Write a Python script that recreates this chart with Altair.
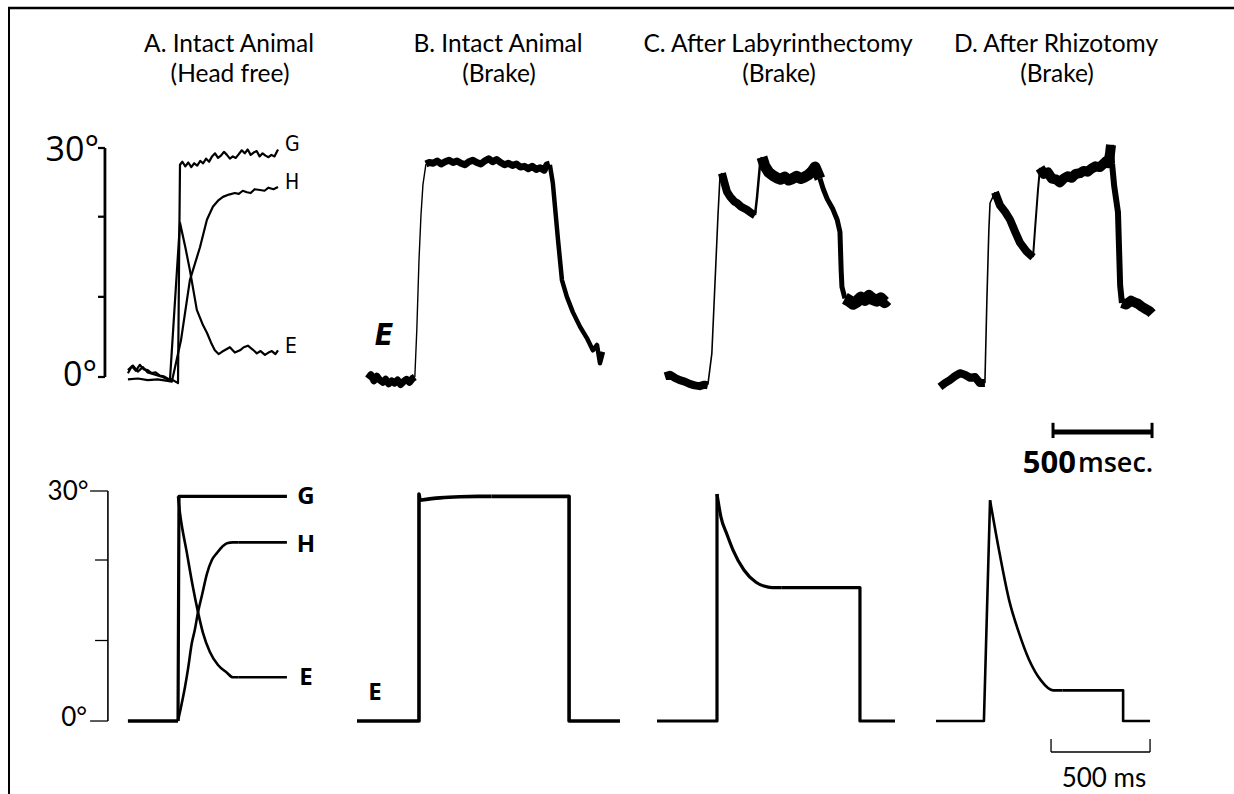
import altair as alt
import pandas as pd

# ---------------------------------------------------------------
# Top row: recorded eye (E), head (H) and gaze (G) traces.
# Each point is (ms from start of sweep, angle in degrees).
# ---------------------------------------------------------------
A_G = [(0, 0.5), (20, 1.4), (40, 0.8), (60, 1.6), (80, 1.0), (100, 0.9), (120, 0.5), (140, 0.6),
       (160, 0.2), (180, 0.1), (200, -0.2), (220, -0.3), (240, -0.6), (253, -0.8), (258, 14.0),
       (263, 27.8), (275, 28.2), (290, 27.6), (305, 28.1), (320, 27.5), (335, 28.0), (350, 27.7),
       (365, 28.3), (380, 28.0), (395, 28.6), (410, 28.2), (425, 28.9), (440, 29.3), (455, 28.7),
       (470, 29.0), (485, 29.5), (500, 29.1), (515, 28.6), (530, 28.9), (545, 28.7), (560, 29.2),
       (575, 29.7), (590, 29.3), (605, 29.8), (620, 29.1), (635, 29.4), (650, 29.6), (665, 28.9),
       (680, 29.3), (695, 29.0), (710, 28.8), (725, 29.1), (740, 28.9), (758, 29.8)]
A_H = [(0, -0.3), (50, -0.2), (100, -0.4), (150, -0.3), (200, -0.5), (222, -0.6), (268, 4.8),
       (313, 12.7), (364, 17.0), (399, 20.6), (429, 22.3), (455, 23.1), (480, 23.6), (510, 23.9),
       (540, 24.1), (560, 24.0), (580, 24.4), (601, 24.2), (620, 24.1), (640, 24.6), (667, 24.5),
       (690, 24.4), (710, 24.8), (735, 24.6), (758, 24.9)]
A_E = [(0, 0.9), (25, 1.5), (50, 0.7), (75, 1.3), (100, 0.6), (125, 0.4), (150, 0.2), (175, 0.0),
       (200, -0.3), (212, -0.5), (263, 20.2), (290, 17.0), (313, 14.0), (348, 8.8), (379, 6.8),
       (399, 5.8), (420, 4.5), (439, 3.5), (458, 3.0), (475, 3.3), (495, 3.6), (515, 3.9),
       (540, 3.2), (566, 3.5), (585, 3.9), (606, 4.1), (630, 3.6), (651, 3.1), (670, 3.4),
       (692, 2.9), (710, 3.2), (727, 3.4), (745, 3.0), (758, 3.5)]

B_BASE = [(0, -0.2), (15, 0.3), (30, -0.5), (45, 0.1), (60, -0.4), (75, -0.7), (90, -0.3),
          (105, -0.9), (120, -0.5), (135, -0.8), (150, -0.4), (165, -1.0), (180, -0.6),
          (195, -0.3), (210, -0.7), (225, -0.2), (237, 0.0)]
B_RISE = [(237, 0.0), (247, 6.2), (258, 15.3), (268, 21.2), (278, 25.2), (293, 27.9)]
B_PLAT = [(293, 27.9), (310, 28.1), (330, 28.0), (350, 28.3), (370, 27.9), (390, 28.2),
          (410, 28.4), (430, 28.1), (450, 28.3), (470, 28.0), (490, 27.8), (510, 28.2),
          (530, 28.4), (550, 28.1), (570, 27.9), (590, 28.3), (610, 28.6), (630, 28.2),
          (650, 28.5), (670, 28.1), (690, 27.8), (710, 28.0), (730, 27.7), (750, 27.9),
          (770, 27.5), (790, 27.6), (810, 27.3), (830, 27.6), (850, 27.2), (870, 27.4),
          (890, 27.1), (905, 27.8), (919, 27.9)]
B_FALL = [(919, 27.8), (934, 25.4), (960, 18.0), (980, 12.7), (1005, 10.5), (1035, 8.5),
          (1071, 6.6), (1106, 5.1), (1136, 3.5), (1157, 4.2), (1172, 1.8), (1187, 3.3)]

C_BASE = [(0, 0.1), (25, 0.3), (50, -0.1), (75, -0.4), (100, -0.6), (125, -0.9), (150, -1.1),
          (175, -1.2), (200, -1.0), (217, -1.1)]
C_RISE1 = [(217, -1.0), (237, 3.1), (258, 15.3), (268, 21.2), (278, 26.2), (288, 26.7)]
C_DECAY = [(288, 26.7), (300, 25.5), (313, 24.3), (330, 23.6), (350, 23.0), (364, 22.8),
           (385, 22.3), (414, 21.9), (435, 21.5), (455, 21.2)]
C_RISE2 = [(455, 21.2), (465, 23.5), (480, 27.8), (490, 28.8)]
C_PLAT = [(490, 28.8), (505, 27.6), (525, 26.8), (545, 26.4), (565, 26.1), (585, 25.9),
          (605, 26.2), (625, 25.8), (645, 26.0), (665, 26.3), (685, 26.0), (705, 26.2),
          (725, 26.5), (745, 27.0), (758, 27.5), (770, 26.8), (783, 26.0)]
C_FALL = [(783, 26.0), (800, 24.6), (820, 23.3), (848, 22.0), (870, 20.6), (884, 19.0),
          (890, 14.0), (894, 11.8), (909, 10.3)]
C_END = [(909, 10.3), (930, 10.0), (950, 9.6), (970, 9.9), (990, 10.4), (1010, 10.1),
         (1030, 10.6), (1050, 10.2), (1070, 10.0), (1090, 10.3), (1110, 9.8), (1121, 10.1)]

D_BASE = [(0, -1.3), (25, -0.8), (50, -0.4), (75, 0.1), (101, 0.5), (126, 0.3), (152, -0.1),
          (177, 0.0), (202, -0.8), (227, -0.8)]
D_RISE1 = [(227, -0.8), (237, 10.1), (247, 19.3), (253, 22.8), (278, 24.2)]
D_DECAY = [(278, 24.2), (303, 22.5), (330, 21.6), (354, 20.6), (380, 19.0), (404, 17.6),
           (439, 16.4), (470, 15.7)]
D_RISE2 = [(470, 15.7), (480, 19.3), (495, 24.5), (505, 27.4)]
D_PLAT = [(505, 27.4), (525, 26.6), (545, 26.8), (565, 26.0), (585, 25.9), (606, 25.5),
          (625, 26.0), (645, 26.3), (665, 26.1), (685, 26.6), (707, 26.7), (725, 27.0),
          (745, 26.9), (765, 27.3), (785, 27.6), (808, 27.5), (825, 27.9), (840, 28.3),
          (850, 28.0), (859, 29.3), (864, 30.4)]
D_FALL = [(864, 30.4), (869, 28.0), (880, 25.0), (899, 21.6), (910, 12.0), (919, 9.7)]
D_END = [(919, 9.7), (940, 9.5), (965, 10.0), (980, 9.8), (1000, 9.6), (1020, 9.2),
         (1040, 8.9), (1060, 8.6), (1071, 8.3)]

# ---------------------------------------------------------------
# Bottom row: model responses, same units.
# Straight pieces (steps, plateaus) and smooth pieces (exponential-like
# transitions) are kept apart so the smooth ones can be drawn as curves.
# ---------------------------------------------------------------
MA_BASE = [(0, 0.0), (253, 0.0)]
MA_G = [(253, 0.0), (258, 29.3), (803, 29.3)]
MA_H_CURVE = [(253, 0.0), (263, 1.2), (288, 4.4), (303, 6.7), (323, 10.2), (338, 11.9),
              (354, 14.2), (374, 16.4), (399, 19.2), (424, 21.0), (449, 21.9), (475, 22.7),
              (500, 23.2), (530, 23.3), (560, 23.3)]
MA_H_FLAT = [(560, 23.3), (803, 23.3)]
MA_E_CURVE = [(253, 29.3), (263, 27.1), (298, 21.9), (328, 17.5), (354, 14.2), (379, 11.5),
              (414, 9.0), (455, 7.3), (500, 6.3), (530, 5.7), (560, 5.7)]
MA_E_FLAT = [(560, 5.7), (803, 5.7)]
MB_STEP_UP = [(0, 0.0), (313, 0.0), (313, 29.6), (318, 28.8)]
MB_TOP = [(318, 28.8), (419, 29.1), (520, 29.25), (611, 29.3), (680, 29.3)]
MB_STEP_DOWN = [(680, 29.3), (1071, 29.3), (1071, 0.0), (1328, 0.0)]
MC_STEP_UP = [(0, 0.0), (303, 0.0), (303, 29.6)]
MC_CURVE = [(303, 29.6), (323, 26.6), (354, 24.3), (384, 22.3), (439, 19.7), (500, 18.1),
            (540, 17.6), (581, 17.4), (630, 17.4)]
MC_STEP_DOWN = [(630, 17.4), (1025, 17.4), (1025, 0.0), (1202, 0.0)]
MD_STEP_UP = [(0, 0.0), (242, 0.0), (273, 28.8)]
MD_CURVE = [(273, 28.8), (318, 22.3), (369, 15.8), (419, 11.5), (470, 8.0), (530, 5.3),
            (591, 4.0), (640, 4.0)]
MD_STEP_DOWN = [(640, 4.0), (945, 4.0), (945, 0.0), (1081, 0.0)]

AXIS_TICKS = [0, 10.5, 21, 30]
TITLES = [("A. Intact Animal", "(Head free)"), ("B. Intact Animal", "(Brake)"),
          ("C. After Labyrinthectomy", "(Brake)"), ("D. After Rhizotomy", "(Brake)")]

# ---------------------------------------------------------------
# Layout: both rows share one time scale; each row has its own angle scale.
# ---------------------------------------------------------------
W, H = 1234, 794
X_DOM = [0, 6232]
TOP_Y = [-54.63, 49.39]
BOT_Y = [-9.52, 94.04]
TOP_START = {"A": 646, "B": 1858, "C": 3358, "D": 4747}
BOT_START = {"A": 646, "B": 1803, "C": 3318, "D": 4727}
TITLE_X = [229, 498, 778, 1056]
TOP_AXIS_T, TOP_TICK_T = 530, 495
BOT_AXIS_T, BOT_TICK_T, BOT_END_T = 545, 480, 455
TOP_BAR_T = 5318
BOT_BAR_T = 5308

SANS = "Lato"
BLACK = "#000000"


def xenc(field):
    return alt.X(field, scale=alt.Scale(domain=X_DOM, nice=False, zero=False), axis=None)


def yenc(field, dom):
    return alt.Y(field, scale=alt.Scale(domain=dom, nice=False, zero=False), axis=None)


def segments(rows, start):
    recs = []
    for panel, name, pts, w in rows:
        for i, (t, d) in enumerate(pts):
            recs.append({"seg": panel + name, "i": i, "T": start[panel] + t, "deg": d, "w": w})
    return pd.DataFrame(recs)


top_lines = segments([
    ("A", "G", A_G, 2.2), ("A", "H", A_H, 2.2), ("A", "E", A_E, 2.2),
    ("B", "base", B_BASE, 7), ("B", "rise", B_RISE, 1.4), ("B", "plat", B_PLAT, 7),
    ("B", "fall", B_FALL, 4.5),
    ("C", "base", C_BASE, 8), ("C", "rise1", C_RISE1, 1.6), ("C", "decay", C_DECAY, 8),
    ("C", "rise2", C_RISE2, 2.5), ("C", "plat", C_PLAT, 11), ("C", "fall", C_FALL, 5),
    ("C", "end", C_END, 12),
    ("D", "base", D_BASE, 8), ("D", "rise1", D_RISE1, 1.6), ("D", "decay", D_DECAY, 8),
    ("D", "rise2", D_RISE2, 2), ("D", "plat", D_PLAT, 10), ("D", "fall", D_FALL, 6),
    ("D", "end", D_END, 10),
], TOP_START)

bot_straight = segments([
    ("A", "base", MA_BASE, 3.6), ("A", "G", MA_G, 3.2), ("A", "Hflat", MA_H_FLAT, 2.6),
    ("A", "Eflat", MA_E_FLAT, 2.6),
    ("B", "up", MB_STEP_UP, 3.6), ("B", "down", MB_STEP_DOWN, 3.6),
    ("C", "up", MC_STEP_UP, 3.2), ("C", "down", MC_STEP_DOWN, 3.2),
    ("D", "up", MD_STEP_UP, 2.6), ("D", "down", MD_STEP_DOWN, 2.6),
], BOT_START)

bot_curves = segments([
    ("A", "H", MA_H_CURVE, 2.6), ("A", "E", MA_E_CURVE, 2.6), ("B", "top", MB_TOP, 3.6),
    ("C", "decay", MC_CURVE, 3.2), ("D", "decay", MD_CURVE, 2.6),
], BOT_START)


def line_layer(df, ydom, interpolate="linear"):
    return alt.Chart(df).mark_line(color=BLACK, strokeJoin="round", strokeCap="butt",
                                   interpolate=interpolate).encode(
        x=xenc("T:Q"),
        y=yenc("deg:Q", ydom),
        detail="seg:N",
        order="i:Q",
        strokeWidth=alt.StrokeWidth("w:Q", scale=None),
    )


def text_layer(df, ydom, **style):
    return alt.Chart(df).mark_text(color=BLACK, **style).encode(
        x=xenc("T:Q"), y=yenc("deg:Q", ydom), text="label:N")


def vertical_scale(axis_t, tick_t, end_t, width, ydom):
    spine = alt.Chart(pd.DataFrame({"T": [axis_t], "lo": [0], "hi": [30]})).mark_rule(
        color=BLACK, strokeWidth=width).encode(x=xenc("T:Q"), y=yenc("lo:Q", ydom), y2="hi:Q")
    ticks = pd.DataFrame({"deg": AXIS_TICKS, "T": [axis_t] * 4,
                          "T0": [end_t, tick_t, tick_t, end_t]})
    tick_marks = alt.Chart(ticks).mark_rule(color=BLACK, strokeWidth=width * 0.8).encode(
        x=xenc("T0:Q"), x2="T:Q", y=yenc("deg:Q", ydom))
    return [spine, tick_marks]


def bar(df, ydom, width):
    return alt.Chart(df).mark_rule(color=BLACK, strokeWidth=width).encode(
        x=xenc("T:Q"), x2="T2:Q", y=yenc("deg:Q", ydom))


def caps(df, ydom, width):
    return alt.Chart(df).mark_rule(color=BLACK, strokeWidth=width).encode(
        x=xenc("T:Q"), y=yenc("lo:Q", ydom), y2="hi:Q")


layers = []

# ---------------- titles ----------------
one = pd.DataFrame({"a": [0]})
for (l1, l2), cx in zip(TITLES, TITLE_X):
    layers.append(alt.Chart(one).mark_text(
        font=SANS, fontSize=24.5, align="center", baseline="middle", color=BLACK
    ).encode(x=alt.value(cx), y=alt.value(45), text=alt.value(l1)))
    layers.append(alt.Chart(one).mark_text(
        font=SANS, fontSize=24.5, align="center", baseline="middle", color=BLACK
    ).encode(x=alt.value(cx + 1), y=alt.value(75), text=alt.value(l2)))

# ---------------- top row ----------------
top_deg_labels = pd.DataFrame({"T": [500, 490], "deg": [29.6, 0.1], "label": ["30°", "0°"]})
top_trace_labels = pd.DataFrame({
    "T": [TOP_START["A"] + 793] * 3,
    "deg": [30.4, 25.4, 3.9],
    "label": ["G", "H", "E"],
})
top_e_label = pd.DataFrame({"T": [TOP_START["B"] + 81], "deg": [5.4], "label": ["E"]})
top_bar = pd.DataFrame({"T": [TOP_BAR_T], "T2": [TOP_BAR_T + 500], "deg": [-7.2]})
top_bar_caps = pd.DataFrame({"T": [TOP_BAR_T, TOP_BAR_T + 500], "lo": [-6.0, -6.0], "hi": [-8.0, -8.0]})
top_bar_num = pd.DataFrame({"T": [TOP_BAR_T + 116], "deg": [-11.4], "label": ["500"]})
top_bar_unit = pd.DataFrame({"T": [TOP_BAR_T + 126], "deg": [-11.4], "label": ["msec."]})

layers += [
    line_layer(top_lines, TOP_Y),
    *vertical_scale(TOP_AXIS_T, TOP_TICK_T, TOP_TICK_T, 2.8, TOP_Y),
    bar(top_bar, TOP_Y, 5),
    caps(top_bar_caps, TOP_Y, 3),
    text_layer(top_deg_labels, TOP_Y, font="Open Sans", fontSize=34, align="right", baseline="middle"),
    text_layer(top_trace_labels, TOP_Y, font="Liberation Sans Narrow, DejaVu Sans Condensed",
               fontSize=21, align="left", baseline="middle"),
    text_layer(top_e_label, TOP_Y, font="DejaVu Sans Condensed", fontSize=30, fontWeight="bold",
               fontStyle="italic", align="center", baseline="middle"),
    text_layer(top_bar_num, TOP_Y, font="Open Sans", fontSize=31, fontWeight="bold",
               align="right", baseline="middle"),
    text_layer(top_bar_unit, TOP_Y, font="Open Sans", fontSize=27, fontWeight=600,
               align="left", baseline="middle"),
]

# ---------------- bottom row ----------------
bot_deg_labels = pd.DataFrame({"T": [447, 440], "deg": [29.9, 0.4], "label": ["30°", "0°"]})
bot_trace_labels = pd.DataFrame({
    "T": [BOT_START["A"] + 899] * 3 + [BOT_START["B"] + 91],
    "deg": [29.2, 22.9, 5.6, 3.7],
    "label": ["G", "H", "E", "E"],
})
bot_bar = pd.DataFrame({"T": [BOT_BAR_T], "T2": [BOT_BAR_T + 500], "deg": [-4.04]})
bot_bar_caps = pd.DataFrame({"T": [BOT_BAR_T, BOT_BAR_T + 500], "lo": [-4.04, -4.04],
                             "hi": [-2.35, -2.35]})
bot_bar_label = pd.DataFrame({"T": [BOT_BAR_T + 267], "deg": [-7.6], "label": ["500 ms"]})

layers += [
    line_layer(bot_straight, BOT_Y),
    line_layer(bot_curves, BOT_Y, interpolate="monotone"),
    *vertical_scale(BOT_AXIS_T, BOT_TICK_T, BOT_END_T, 1.6, BOT_Y),
    bar(bot_bar, BOT_Y, 1.3),
    caps(bot_bar_caps, BOT_Y, 1.3),
    text_layer(bot_deg_labels, BOT_Y, font=SANS, fontSize=26, align="right", baseline="middle"),
    text_layer(bot_trace_labels, BOT_Y, font="Open Sans", fontSize=24, fontWeight="bold",
               align="center", baseline="middle"),
    text_layer(bot_bar_label, BOT_Y, font=SANS, fontSize=26, align="center", baseline="middle"),
]

# ---------------- frame: top and left edges ----------------
layers += [
    alt.Chart(one).mark_rule(color=BLACK, strokeWidth=2.5).encode(
        x=alt.value(8), x2=alt.value(W), y=alt.value(8)),
    alt.Chart(one).mark_rule(color=BLACK, strokeWidth=2).encode(
        x=alt.value(9), y=alt.value(8), y2=alt.value(H)),
]

chart = alt.layer(*layers).resolve_scale(x="independent", y="independent").properties(
    width=W, height=H, padding=0, autosize=alt.AutoSizeParams(type="none")
).configure_view(stroke=None)

chart.save("out.html", embed_options={"renderer": "svg", "actions": False})
